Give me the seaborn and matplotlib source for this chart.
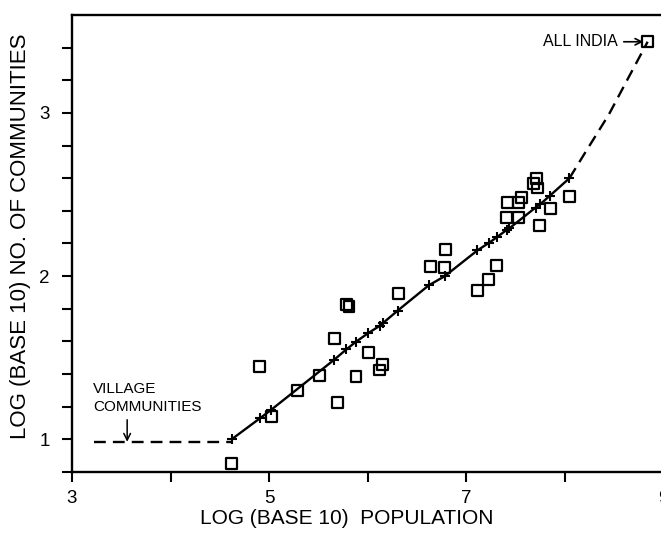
import numpy as np
import pandas as pd
import matplotlib
matplotlib.use("Agg")
import matplotlib.pyplot as plt
from matplotlib import font_manager
import seaborn as sns

# Communities: log10 population vs log10 number of communities
pop_log = [4.618, 4.905, 5.030, 5.287, 5.512, 5.663, 5.698, 5.785, 5.812, 5.883,
           6.009, 6.122, 6.156, 6.316, 6.638, 6.780, 6.793, 7.113, 7.232, 7.306,
           7.409, 7.420, 7.536, 7.536, 7.568, 7.690, 7.720, 7.722, 7.744, 7.858,
           8.052, 8.844]
comm_log = [0.850, 1.448, 1.140, 1.302, 1.389, 1.619, 1.223, 1.824, 1.815, 1.387,
            1.535, 1.425, 1.461, 1.893, 2.060, 2.054, 2.166, 1.913, 1.982, 2.065,
            2.358, 2.451, 2.358, 2.454, 2.480, 2.570, 2.600, 2.540, 2.311, 2.417,
            2.487, 3.436]

# Fitted values (crosses) joined by the solid curve
fit_x = [4.62, 4.91, 5.02, 5.66, 5.785, 5.883, 6.01, 6.123, 6.162, 6.307, 6.62,
         6.785, 7.116, 7.236, 7.31, 7.415, 7.44, 7.706, 7.752, 7.85, 8.05]
fit_y = [1.0, 1.13, 1.18, 1.487, 1.551, 1.598, 1.652, 1.695, 1.715, 1.789, 1.943,
         2.0, 2.158, 2.205, 2.237, 2.284, 2.293, 2.42, 2.44, 2.492, 2.60]

# Dashed extensions: village level and up to all India
village_x = [3.22, 4.62]
village_y = [0.985, 0.985]
upper_x = [8.05, 8.21, 8.45, 8.65, 8.844]
upper_y = [2.60, 2.757, 2.99, 3.217, 3.436]

x_ticks = [3, 4, 5, 6, 7, 8, 9]
x_ticklabels = ["3", "", "5", "", "7", "", "9"]
y_ticks = [0.8, 1.0, 1.2, 1.4, 1.6, 1.8, 2.0, 2.2, 2.4, 2.6, 2.8, 3.0, 3.2, 3.4]
y_ticklabels = ["", "1", "", "", "", "", "2", "", "", "", "", "3", "", ""]

sns.set_theme(style="ticks")
available = {f.name for f in font_manager.fontManager.ttflist}
family = "Liberation Sans" if "Liberation Sans" in available else "DejaVu Sans"
plt.rcParams["font.family"] = [family, "DejaVu Sans"]
plt.rcParams["text.color"] = "black"
plt.rcParams["axes.labelcolor"] = "black"

fig = plt.figure(figsize=(6.61, 5.36), dpi=100)
ax = fig.add_axes([72 / 661, 64 / 536, 591 / 661, 457 / 536])

points = pd.DataFrame({"pop": pop_log, "comm": comm_log})
fitted = pd.DataFrame({"pop": fit_x, "comm": fit_y})

sns.lineplot(x=village_x, y=village_y, ax=ax, color="black", lw=1.7,
             linestyle=(0, (5, 3)), estimator=None, sort=False)
sns.lineplot(x=upper_x, y=upper_y, ax=ax, color="black", lw=1.7,
             linestyle=(0, (5, 3)), estimator=None, sort=False)
sns.lineplot(data=fitted, x="pop", y="comm", ax=ax, color="black", lw=1.7,
             marker="+", markersize=6.5, markeredgewidth=1.5,
             markeredgecolor="black", estimator=None, sort=False)
sns.scatterplot(data=points, x="pop", y="comm", ax=ax, marker="s", s=62,
                facecolor="none", edgecolor="black", linewidth=1.6, zorder=4)

ax.set_xlim(3, 9)
ax.set_ylim(0.8, 3.6)
ax.set_xticks(x_ticks)
ax.set_xticklabels(x_ticklabels)
ax.set_yticks(y_ticks)
ax.set_yticklabels(y_ticklabels)
ax.tick_params(axis="both", direction="out", length=7, width=1.5,
               labelsize=13.5, color="black", labelcolor="black")
ax.tick_params(axis="x", pad=6)
ax.tick_params(axis="y", pad=9)

for side in ["left", "bottom", "top"]:
    ax.spines[side].set_linewidth(1.7)
    ax.spines[side].set_color("black")
ax.spines["right"].set_visible(False)

ax.set_xlabel("LOG (BASE 10)  POPULATION", fontsize=15, color="black")
ax.set_ylabel("LOG (BASE 10) NO. OF COMMUNITIES", fontsize=16, color="black")
ax.xaxis.set_label_coords(0.465, -0.08)
ax.yaxis.set_label_coords(-0.07, 0.516)

ax.annotate("ALL INDIA", xy=(8.80, 3.436), xytext=(8.54, 3.436),
            ha="right", va="center", fontsize=11.5, color="black",
            arrowprops=dict(arrowstyle="->", color="black", lw=1.2,
                            shrinkA=2, shrinkB=0))
ax.text(3.215, 1.255, "VILLAGE\nCOMMUNITIES", ha="left", va="center",
        fontsize=11, linespacing=1.4, color="black")
ax.annotate("", xy=(3.56, 0.985), xytext=(3.56, 1.12),
            arrowprops=dict(arrowstyle="->", color="black", lw=1.1,
                            shrinkA=0, shrinkB=0))

fig.savefig("out.png", dpi=100)
